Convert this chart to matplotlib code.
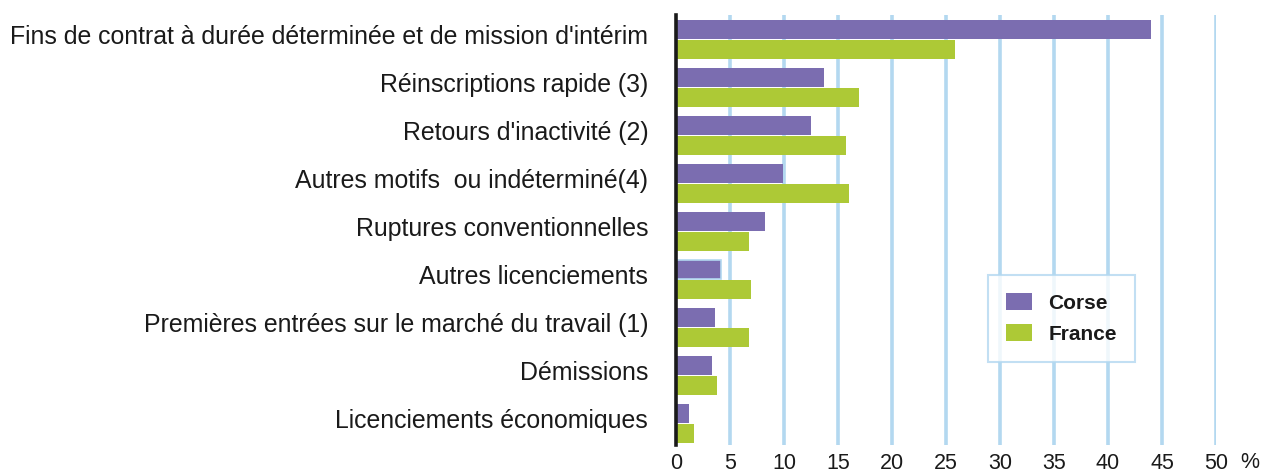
import numpy as np
import matplotlib.pyplot as plt
from matplotlib.patches import Patch

plt.rcParams['font.family'] = ['Liberation Sans', 'DejaVu Sans']

categories = ["Fins de contrat à durée déterminée et de mission d'intérim",
              "Réinscriptions rapide (3)",
              "Retours d'inactivité (2)",
              "Autres motifs  ou indéterminé(4)",
              "Ruptures conventionnelles",
              "Autres licenciements",
              "Premières entrées sur le marché du travail (1)",
              "Démissions",
              "Licenciements économiques"]
corse = [44.0, 13.7, 12.5, 9.9, 8.2, 4.2, 3.6, 3.3, 1.2]
france = [25.8, 16.9, 15.7, 16.0, 6.8, 6.9, 6.8, 3.8, 1.7]
xticks = [0, 5, 10, 15, 20, 25, 30, 35, 40, 45, 50]

purple = '#7b6db0'
green = '#adc936'
gridc = '#b3d8f0'
txt = '#1a1a1a'

fig = plt.figure(figsize=(12.67, 4.75), dpi=100)
ax = fig.add_axes([676/1267, 30/475, (1216-676)/1267, 430/475])

y = np.arange(len(categories))
h = 0.40
for xv in xticks[1:]:
    ax.axvline(xv, color=gridc, lw=2.6, zorder=0)
bars = ax.barh(y - 0.205, corse, height=h, color=purple, zorder=2)
ax.barh(y + 0.205, france, height=h, color=green, zorder=2)
bars[5].set_edgecolor(gridc)
bars[5].set_linewidth(1.2)

ax.set_xlim(0, 50)
ax.set_ylim(8.45, -0.51)
# labels sit a little above the middle of each pair
ax.set_yticks(y - 0.1)
ax.set_yticklabels(categories, fontsize=17.9, color=txt)
ax.set_xticks(xticks)
ax.set_xticklabels([str(v) for v in xticks], fontsize=15.5, color=txt)
ax.tick_params(length=0, pad=20, axis='y')
ax.tick_params(length=0, pad=6, axis='x')
ax.text(1250, 2, '%', transform=None, fontsize=15.5, color=txt, ha='center', va='bottom')
for s in ['top', 'right', 'bottom']:
    ax.spines[s].set_visible(False)
ax.spines['left'].set_linewidth(2.6)
ax.spines['left'].set_color(txt)
ax.spines['left'].set_zorder(3)

handles = [Patch(facecolor=purple, label='Corse'), Patch(facecolor=green, label='France')]
leg = ax.legend(handles=handles, loc='upper left', bbox_to_anchor=((988-676)/540, (475-275-30)/430),
                frameon=True, fancybox=False, prop={'weight': 'bold', 'size': 15},
                handlelength=1.25, handleheight=0.9, borderpad=0.85, labelspacing=0.55,
                handletextpad=0.8, borderaxespad=0)
leg.get_frame().set_edgecolor(gridc)
leg.get_frame().set_linewidth(1.5)
for t in leg.get_texts():
    t.set_color(txt)

fig.savefig('out.png', dpi=100)
